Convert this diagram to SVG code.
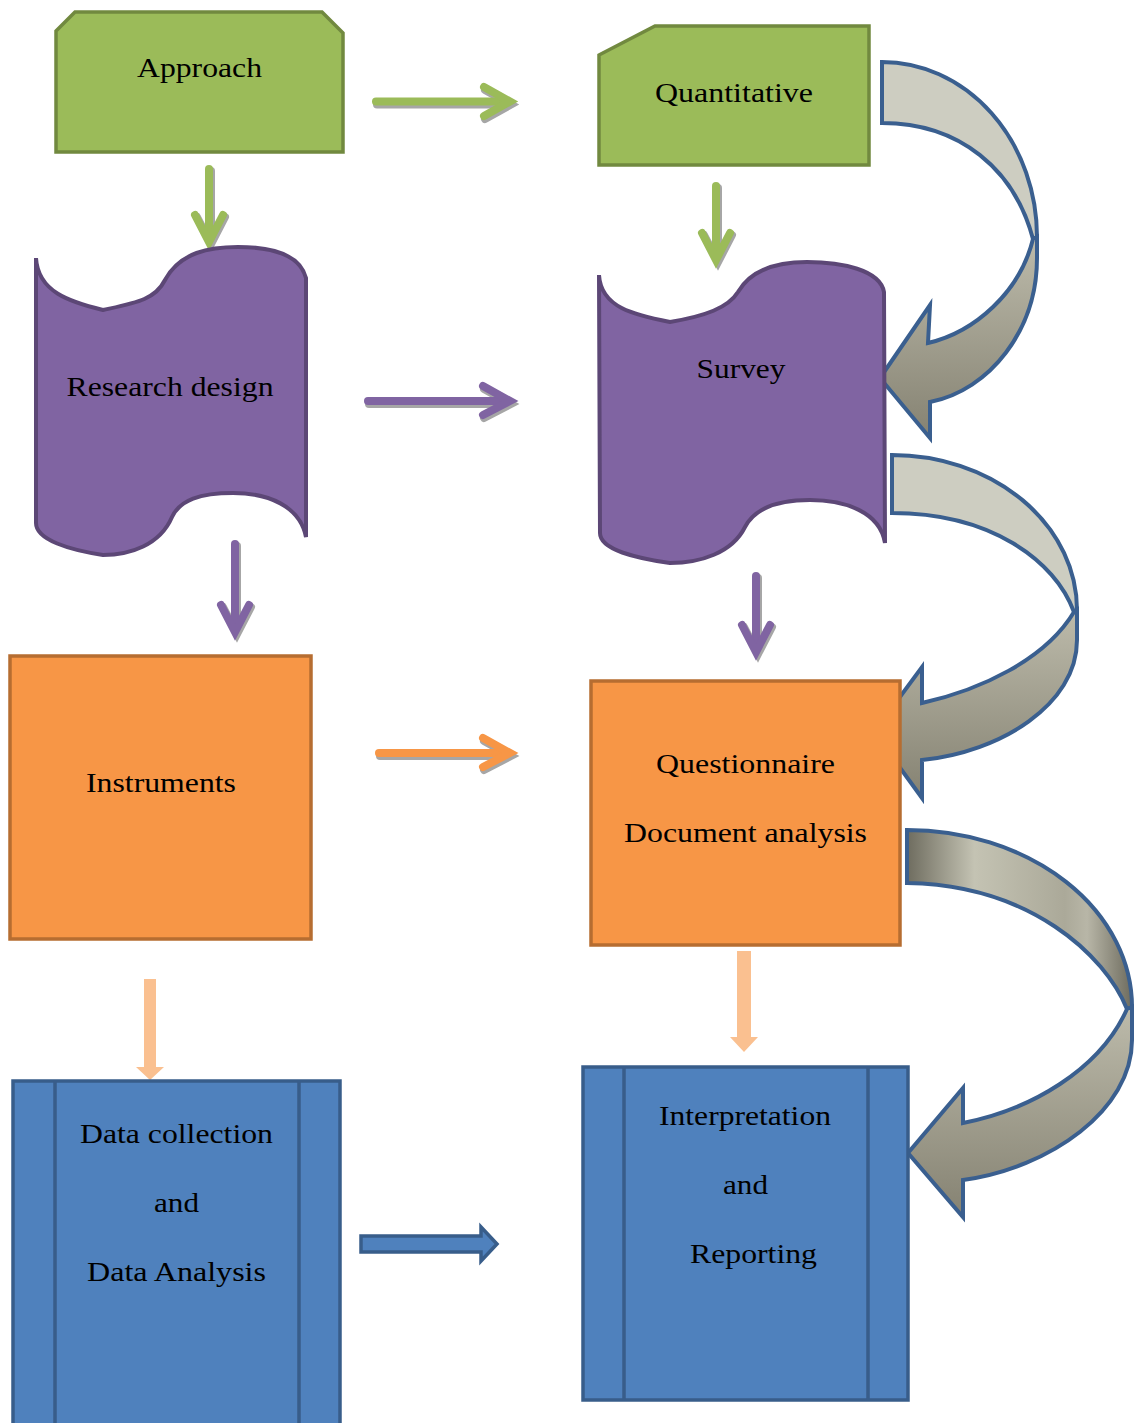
<svg xmlns="http://www.w3.org/2000/svg" width="1135" height="1423" viewBox="0 0 1135 1423">
<style>
.lbl{font-family:"Liberation Serif","Times New Roman",serif;font-size:28px;fill:#000;text-anchor:middle}
.green{fill:#9BBB59;stroke:#71893F;stroke-width:3.5}
.purple{fill:#8064A2;stroke:#5C4776;stroke-width:4}
.orange{fill:#F79646;stroke:#B66D31;stroke-width:3.5}
.blue{fill:#4F81BD;stroke:#385D8A;stroke-width:3.5}
.ln{fill:none;stroke-width:8;stroke-linecap:round;stroke-linejoin:miter}
.sh{stroke:#A6A6A6}
.lg{stroke:#9BBB59}
.lp{stroke:#8064A2}
.lo{stroke:#F79646}
.peach{fill:#FAC090}
.curve{stroke:#3A5F8F;stroke-width:4;stroke-linejoin:miter}
</style>
<defs>
<linearGradient id="lowG" x1="0" y1="0" x2="0" y2="1">
<stop offset="0" stop-color="#BDBBAB"/>
<stop offset="1" stop-color="#858272"/>
</linearGradient>
<linearGradient id="upG3" x1="0" y1="0" x2="1" y2="0">
<stop offset="0" stop-color="#6E6C5F"/>
<stop offset="0.3" stop-color="#C4C3B3"/>
<stop offset="0.7" stop-color="#ABA999"/>
<stop offset="0.8" stop-color="#B8B6A7"/>
<stop offset="1" stop-color="#6E6C5F"/>
</linearGradient>
</defs>

<g id="connectors">
  <!-- Approach -> Quantitative -->
  <g transform="translate(1,3)" class="ln sh"><path d="M376,101.5 H507"/><path d="M484,87 L510,101.5 L484,116"/></g>
  <g class="ln lg"><path d="M376,101.5 H507"/><path d="M484,87 L510,101.5 L484,116"/></g>
  <!-- Approach -> Research design -->
  <g transform="translate(2,2)" class="ln sh"><path d="M209,169 V240"/><path d="M195,215 L209,242 L223,215"/></g>
  <g class="ln lg"><path d="M209,169 V240"/><path d="M195,215 L209,242 L223,215"/></g>
  <!-- Quantitative -> Survey -->
  <g transform="translate(2,2)" class="ln sh"><path d="M716,186 V258"/><path d="M702,233 L716,260 L730,233"/></g>
  <g class="ln lg"><path d="M716,186 V258"/><path d="M702,233 L716,260 L730,233"/></g>
  <!-- Research design -> Survey -->
  <g transform="translate(1,3)" class="ln sh"><path d="M368,401 H507"/><path d="M483,386 L510,401 L483,415"/></g>
  <g class="ln lp"><path d="M368,401 H507"/><path d="M483,386 L510,401 L483,415"/></g>
  <!-- Research design -> Instruments -->
  <g transform="translate(2,2)" class="ln sh"><path d="M235,544 V630"/><path d="M221,605 L235,632 L249,605"/></g>
  <g class="ln lp"><path d="M235,544 V630"/><path d="M221,605 L235,632 L249,605"/></g>
  <!-- Survey -> Questionnaire -->
  <g transform="translate(2,2)" class="ln sh"><path d="M756,576 V650"/><path d="M742,625 L756,652 L770,625"/></g>
  <g class="ln lp"><path d="M756,576 V650"/><path d="M742,625 L756,652 L770,625"/></g>
  <!-- Instruments -> Questionnaire -->
  <g transform="translate(1,3)" class="ln sh"><path d="M379,753 H507"/><path d="M483,738 L510,753 L483,767"/></g>
  <g class="ln lo"><path d="M379,753 H507"/><path d="M483,738 L510,753 L483,767"/></g>
  <!-- Instruments -> Data collection -->
  <polygon class="peach" points="144,979 156,979 156,1067 164,1067 150,1080 136,1067 144,1067"/>
  <!-- Questionnaire -> Interpretation -->
  <polygon class="peach" points="737,951 751,951 751,1037 758,1037 744,1052 730,1037 737,1037"/>
  <!-- Data collection -> Interpretation -->
  <polygon class="blue" points="361,1236 481,1236 481,1227 497,1244 481,1261 481,1252 361,1252"/>

  <!-- Curved arrow 1: Quantitative -> Survey -->
  <path class="curve" fill="#CDCDC1" d="M882,62 A155 175 0 0 1 1037,237 L1033,239 C1015,170 960,123 882,123 Z"/>
  <path class="curve" fill="url(#lowG)" d="M1033,239 L1037,237 L1037,258 C1037,330 990,390 930,402 L930,438 L880,378 L930,305 L928,343 C975,332 1020,292 1033,239 Z"/>
  <!-- Curved arrow 2: Survey -> Questionnaire -->
  <path class="curve" fill="#CDCDC1" d="M892,455 A185 155 0 0 1 1077,610 L1074,612 C1055,560 990,513 892,513 Z"/>
  <path class="curve" fill="url(#lowG)" d="M1074,612 L1077,610 L1077,640 C1077,705 1000,752 922,760 L922,798 L874,732 L922,667 L922,703 C980,690 1045,660 1074,612 Z"/>
  <!-- Curved arrow 3: Questionnaire -> Interpretation -->
  <path class="curve" fill="url(#upG3)" d="M907,830 A225 177 0 0 1 1132,1007 L1127,1009 C1105,955 1030,885 907,883 Z"/>
  <path class="curve" fill="url(#lowG)" d="M1127,1009 L1132,1007 L1132,1040 C1132,1110 1050,1168 963,1180 L963,1217 L908,1153 L963,1088 L963,1123 C1030,1110 1100,1070 1127,1009 Z"/>
</g>

<g id="approach">
  <polygon class="green" points="56,31 75,12 322,12 343,33 343,152 56,152"/>
  <text class="lbl" x="199.5" y="77" textLength="125" lengthAdjust="spacingAndGlyphs">Approach</text>
</g>
<g id="quantitative">
  <polygon class="green" points="599,55 655,26 869,26 869,165 599,165"/>
  <text class="lbl" x="734" y="102" textLength="158" lengthAdjust="spacingAndGlyphs">Quantitative</text>
</g>
<g id="research-design">
  <path class="purple" d="M36,258 C38,292 70,302 103,310 C135,303 155,300 165,280 C180,252 210,247 238,247 C272,247 300,255 306,278 L306,537 C300,506 268,493 233,493 C200,493 180,500 172,517 C160,545 130,555 103,555 C70,550 36,540 36,523 Z"/>
  <text class="lbl" x="170" y="396" textLength="207" lengthAdjust="spacingAndGlyphs">Research design</text>
</g>
<g id="survey">
  <path class="purple" d="M599,275 C601,308 635,315 670,322 C705,316 728,308 738,292 C752,268 780,262 807,262 C842,262 880,270 884,292 L885,543 C880,512 845,500 810,500 C778,500 755,508 745,527 C732,553 700,563 670,563 C636,558 600,550 600,533 Z"/>
  <text class="lbl" x="741" y="378" textLength="89" lengthAdjust="spacingAndGlyphs">Survey</text>
</g>
<g id="instruments">
  <rect class="orange" x="10" y="656" width="301" height="283"/>
  <text class="lbl" x="161" y="792" textLength="150" lengthAdjust="spacingAndGlyphs">Instruments</text>
</g>
<g id="questionnaire">
  <rect class="orange" x="591" y="681" width="309" height="264"/>
  <text class="lbl" x="745.5" y="773" textLength="179" lengthAdjust="spacingAndGlyphs">Questionnaire</text>
  <text class="lbl" x="745.5" y="842" textLength="243" lengthAdjust="spacingAndGlyphs">Document analysis</text>
</g>
<g id="data-collection">
  <rect class="blue" x="13" y="1081" width="327" height="360"/>
  <line x1="55" y1="1081" x2="55" y2="1423" stroke="#385D8A" stroke-width="3.5"/>
  <line x1="299" y1="1081" x2="299" y2="1423" stroke="#385D8A" stroke-width="3.5"/>
  <text class="lbl" x="176.5" y="1143" textLength="193" lengthAdjust="spacingAndGlyphs">Data collection</text>
  <text class="lbl" x="176.5" y="1212" textLength="45" lengthAdjust="spacingAndGlyphs">and</text>
  <text class="lbl" x="176.5" y="1281" textLength="179" lengthAdjust="spacingAndGlyphs">Data Analysis</text>
</g>
<g id="interpretation">
  <rect class="blue" x="583" y="1067" width="325" height="333"/>
  <line x1="624" y1="1067" x2="624" y2="1400" stroke="#385D8A" stroke-width="3.5"/>
  <line x1="868" y1="1067" x2="868" y2="1400" stroke="#385D8A" stroke-width="3.5"/>
  <text class="lbl" x="745" y="1125" textLength="172" lengthAdjust="spacingAndGlyphs">Interpretation</text>
  <text class="lbl" x="745.5" y="1194" textLength="45" lengthAdjust="spacingAndGlyphs">and</text>
  <text class="lbl" x="753.5" y="1263" textLength="127" lengthAdjust="spacingAndGlyphs">Reporting</text>
</g>
</svg>
